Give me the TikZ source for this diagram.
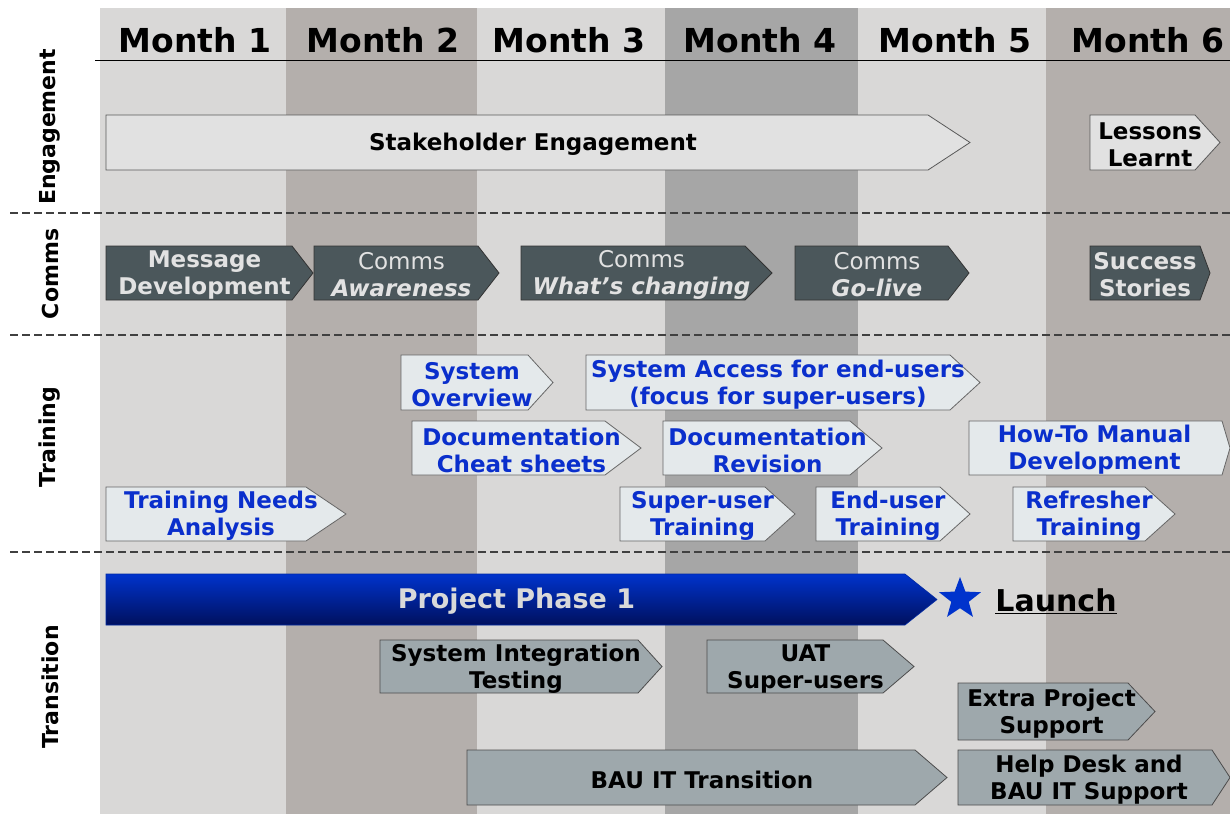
\documentclass[tikz,border=0pt]{standalone}
\usepackage{fontspec}
\setmainfont{DejaVu Sans}
\usetikzlibrary{shapes.geometric}

\definecolor{bandlight}{HTML}{D9D8D7}
\definecolor{bandtaupe}{HTML}{B4AFAC}
\definecolor{bandgrey}{HTML}{A6A6A6}
\definecolor{engagefill}{HTML}{E1E1E1}
\definecolor{trainfill}{HTML}{E4E9EB}
\definecolor{trainblue}{HTML}{0A2FCC}
\definecolor{commsfill}{HTML}{4B575B}
\definecolor{commstext}{HTML}{E2E2E2}
\definecolor{transfill}{HTML}{9EA8AC}
\definecolor{phasetop}{HTML}{0033CC}
\definecolor{phasebot}{HTML}{00105E}
\definecolor{sepline}{HTML}{404040}

% box with a pointed right end: style, name, left, body end, tip, top, bottom, text
\newcommand{\phasebox}[8]{%
  \draw[#1 box] (#3,#6) -- (#4,#6) -- (#5,{(#6+#7)/2}) -- (#4,#7) -- (#3,#7) -- cycle;
  \node[#1 label] (#2) at ({(#3+#5)/2-5},{(#6+#7)/2}) {#8};}

\begin{document}
\begin{tikzpicture}[x=1pt,y=-1pt,
  arrowtext/.style={align=center,inner sep=0pt,yshift=-2pt,font=\fontsize{23}{27}\selectfont\bfseries},
  engage box/.style={fill=engagefill,draw=black!65,line width=0.8pt},
  engage label/.style={arrowtext,text=black},
  train box/.style={fill=trainfill,draw=black!60,line width=0.8pt},
  train label/.style={arrowtext,text=trainblue},
  comms box/.style={fill=commsfill,draw=black!80,line width=0.8pt},
  comms label/.style={arrowtext,text=commstext},
  trans box/.style={fill=transfill,draw=black!70,line width=0.8pt},
  trans label/.style={arrowtext,text=black},
  phase box/.style={top color=phasetop,bottom color=phasebot,draw=phasetop!80!black,line width=0.6pt},
  phase label/.style={arrowtext,font=\fontsize{27}{30}\selectfont\bfseries,text=black!15},
  month/.style={font=\fontsize{33}{36}\selectfont\bfseries},
  lane/.style={rotate=90,font=\fontsize{22}{24}\selectfont\bfseries},
  separator/.style={sepline,line width=1.3pt,dash pattern=on 8pt off 4pt}]

\useasboundingbox (0,0) rectangle (1230,814);

% month columns
\foreach \xa/\xb/\col in {100/286/bandlight,286/477/bandtaupe,477/665/bandlight,
                          665/858/bandgrey,858/1046/bandlight,1046/1230/bandtaupe}
  \fill[\col] (\xa,8) rectangle (\xb,814);

\node[month] (m1) at (195,40) {Month 1};
\node[month] (m2) at (383,40) {Month 2};
\node[month] (m3) at (569,40) {Month 3};
\node[month] (m4) at (760,40) {Month 4};
\node[month] (m5) at (955,40) {Month 5};
\node[month] (m6) at (1148,40) {Month 6};
\draw[line width=0.8pt] (95,60) -- (1230,60);

% lanes
\draw[separator] (10,213) -- (1230,213);
\draw[separator] (10,335) -- (1230,335);
\draw[separator] (10,552) -- (1230,552);

\node[lane] (engagement) at (50,127) {Engagement};
\node[lane] (comms) at (50,274) {Comms};
\node[lane] (training) at (50,437) {Training};
\node[lane] (transition) at (50,687) {Transition};

% engagement
\phasebox{engage}{stake}{106}{928}{970}{115}{170}{Stakeholder Engagement}
\phasebox{engage}{lessons}{1090}{1195}{1220}{115}{170}{Lessons\\Learnt}

% comms
\phasebox{comms}{message}{106}{292}{313}{246}{300}{Message\\Development}
\phasebox{comms}{aware}{314}{478}{499}{246}{300}{\mdseries Comms\\\itshape Awareness}
\phasebox{comms}{changing}{521}{745}{772}{246}{300}{\mdseries Comms\\\itshape What’s changing}
\phasebox{comms}{golive}{795}{948}{969}{246}{300}{\mdseries Comms\\\itshape Go-live}
\phasebox{comms}{success}{1090}{1200}{1210}{246}{300}{Success\\Stories}

% training
\phasebox{train}{overview}{401}{528}{553}{355}{410}{System\\Overview}
\phasebox{train}{access}{586}{950}{980}{355}{410}{System Access for end-users\\(focus for super-users)}
\phasebox{train}{cheat}{412}{605}{641}{421}{475}{Documentation\\Cheat sheets}
\phasebox{train}{revision}{663}{850}{882}{421}{475}{Documentation\\Revision}
\phasebox{train}{howto}{969}{1222}{1230}{421}{475}{How-To Manual\\Development}
\phasebox{train}{needs}{106}{306}{346}{487}{541}{Training Needs\\Analysis}
\phasebox{train}{super}{620}{765}{795}{487}{541}{Super-user\\Training}
\phasebox{train}{enduser}{816}{940}{970}{487}{541}{End-user\\Training}
\phasebox{train}{refresher}{1013}{1145}{1175}{487}{541}{Refresher\\Training}

% transition
\phasebox{phase}{phase}{106}{905}{937}{574}{625}{Project Phase 1}
\node[star,star points=5,star point ratio=2.4,fill=phasetop,inner sep=0pt,minimum size=44pt] (star) at (960,599) {};
\node[font=\fontsize{30}{32}\selectfont\bfseries] (launch) at (1056,601) {\underline{Launch}};
\phasebox{trans}{sit}{380}{638}{662}{640}{693}{System Integration\\Testing}
\phasebox{trans}{uat}{707}{883}{914}{640}{693}{UAT\\Super-users}
\phasebox{trans}{extra}{958}{1128}{1155}{683}{740}{Extra Project\\Support}
\phasebox{trans}{bau}{467}{915}{947}{750}{805}{BAU IT Transition}
\phasebox{trans}{helpdesk}{958}{1212}{1230}{750}{805}{Help Desk and\\BAU IT Support}
\end{tikzpicture}
\end{document}
